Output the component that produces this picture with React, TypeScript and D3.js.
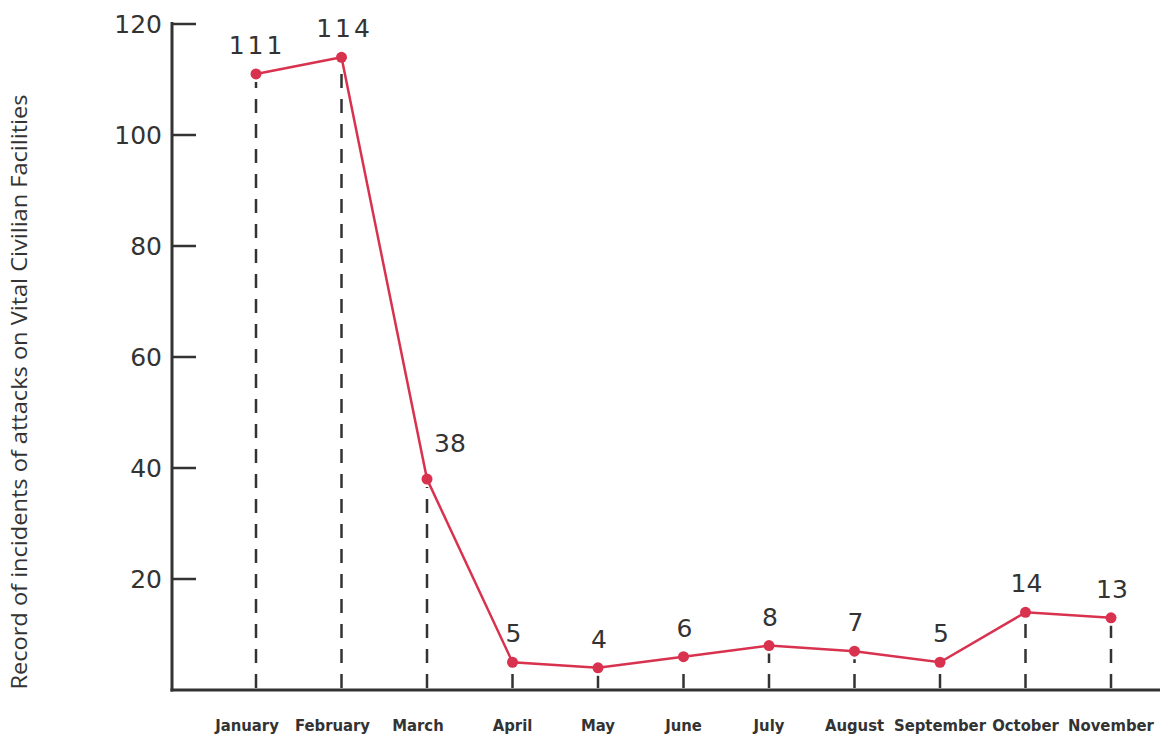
import * as d3 from 'd3';
import React, { useEffect, useRef } from 'react';

const months = [
  'January', 'February', 'March', 'April', 'May', 'June',
  'July', 'August', 'September', 'October', 'November',
];
const incidents = [111, 114, 38, 5, 4, 6, 8, 7, 5, 14, 13];
const yTicks = [20, 40, 60, 80, 100, 120];

const width = 1165;
const height = 735;

const App: React.FC = () => {
  const ref = useRef<SVGSVGElement>(null);

  useEffect(() => {
    const svg = d3.select(ref.current);
    svg.selectAll('*').remove();

    const x0 = 172;
    const yBase = 690;

    // point scale for months
    const x = d3
      .scalePoint<string>()
      .domain(months)
      .range([256, 1111]);

    const y = d3.scaleLinear().domain([0, 120]).range([yBase, 24]);

    const ink = '#333';
    const red = '#d8324f';

    // y axis
    svg
      .append('line')
      .attr('x1', x0)
      .attr('x2', x0)
      .attr('y1', y(120) - 2)
      .attr('y2', yBase + 1.5)
      .attr('stroke', ink)
      .attr('stroke-width', 3);

    // x axis
    svg
      .append('line')
      .attr('x1', x0 - 1.5)
      .attr('x2', 1160)
      .attr('y1', yBase)
      .attr('y2', yBase)
      .attr('stroke', ink)
      .attr('stroke-width', 3);

    const ty = svg.append('g');
    ty.selectAll('line')
      .data(yTicks)
      .join('line')
      .attr('x1', x0)
      .attr('x2', 196)
      .attr('y1', d => y(d))
      .attr('y2', d => y(d))
      .attr('stroke', ink)
      .attr('stroke-width', 2.5);
    ty.selectAll('text')
      .data(yTicks)
      .join('text')
      .attr('x', 162)
      .attr('y', d => y(d) + 9)
      .attr('text-anchor', 'end')
      .attr('fill', ink)
      .attr('font-family', 'DejaVu Sans, sans-serif')
      .attr('font-size', 25)
      .text(d => d);

    // y label
    svg
      .append('text')
      .attr('transform', 'translate(27,392) rotate(-90)')
      .attr('text-anchor', 'middle')
      .attr('fill', ink)
      .attr('font-family', 'Open Sans, sans-serif')
      .attr('font-size', 21)
      .attr('textLength', 595)
      .attr('lengthAdjust', 'spacingAndGlyphs')
      .text('Record of incidents of attacks on Vital Civilian Facilities');

    // dashed drop lines
    svg
      .append('g')
      .selectAll('line')
      .data(months)
      .join('line')
      .attr('x1', d => x(d)!)
      .attr('x2', d => x(d)!)
      .attr('y1', yBase - 2)
      .attr('y2', (d, i) => y(incidents[i]) + 8)
      .attr('stroke', ink)
      .attr('stroke-width', 2.5)
      .attr('stroke-dasharray', '14,11');

    // x labels
    svg
      .append('g')
      .selectAll('text')
      .data(months)
      .join('text')
      .attr('x', (d, i) => x(d)! - (i < 3 ? 9 : 0))
      .attr('y', 731)
      .attr('text-anchor', 'middle')
      .attr('fill', ink)
      .attr('font-family', 'DejaVu Sans Condensed, DejaVu Sans, sans-serif')
      .attr('font-weight', 'bold')
      .attr('font-size', 16.5)
      .text(d => d);

    // line
    const line = d3
      .line<number>()
      .x((d, i) => x(months[i])!)
      .y(d => y(d));

    svg
      .append('path')
      .datum(incidents)
      .attr('d', line)
      .attr('fill', 'none')
      .attr('stroke', red)
      .attr('stroke-width', 2.5);

    svg
      .append('g')
      .selectAll('circle')
      .data(incidents)
      .join('circle')
      .attr('cx', (d, i) => x(months[i])!)
      .attr('cy', d => y(d))
      .attr('r', 5.5)
      .attr('fill', red);

    // value labels
    svg
      .append('g')
      .selectAll('text')
      .data(incidents)
      .join('text')
      .attr('x', (d, i) => x(months[i])! + (i === 2 ? 23 : i === 1 ? 3 : 1))
      .attr('y', (d, i) => y(d) - (i === 2 ? 27 : 20))
      .attr('text-anchor', 'middle')
      .attr('fill', ink)
      .attr('font-family', 'DejaVu Sans, sans-serif')
      .attr('font-size', 25)
      .attr('letter-spacing', (d) => (d > 99 ? 3 : 0))
      .text(d => d);
  }, []);

  return (
    <svg
      ref={ref}
      width={width}
      height={height}
      style={{ position: 'absolute', left: 0, top: 0, background: '#fff' }}
    />
  );
};

export default App;
